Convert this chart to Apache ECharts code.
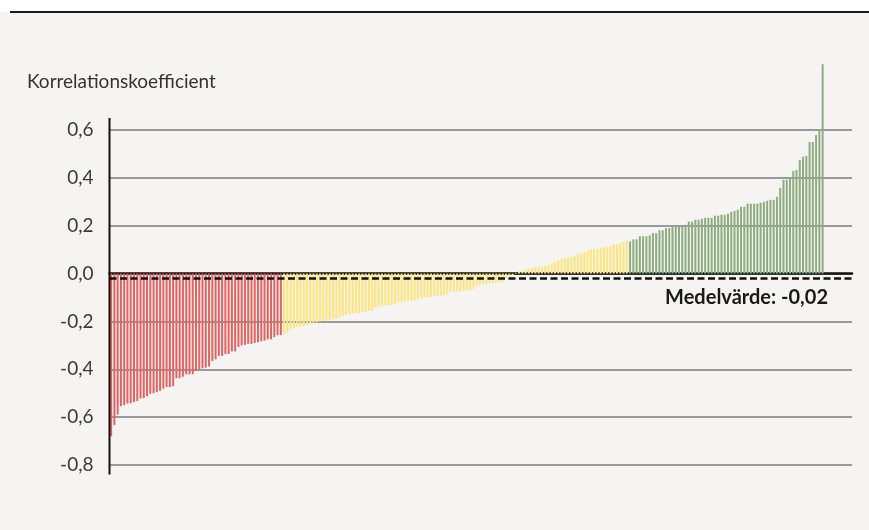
<!DOCTYPE html>
<html>
<head>
<meta charset="utf-8">
<script src="https://cdn.jsdelivr.net/npm/echarts@6/dist/echarts.min.js"></script>
<style>
  html, body { margin: 0; padding: 0; background: #fff; }
  #wrap { position: relative; width: 869px; height: 530px; background: #f5f4f2; }
  #topband { position: absolute; left: 0; top: 0; width: 869px; height: 12px; background: #fff; }
  #topline { position: absolute; left: 10px; top: 11px; width: 859px; height: 2px; background: #1a1a1a; }
  #chart { position: absolute; left: 0; top: 0; width: 869px; height: 530px; }
</style>
</head>
<body>
<div id="wrap">
  <div id="topband"></div>
  <div id="topline"></div>
  <div id="chart"></div>
</div>
<script>
// korrelationskoefficienter, sorterade
var redValues = [
  -0.68, -0.633, -0.589, -0.554, -0.55, -0.543, -0.542, -0.537, -0.533, -0.522,
  -0.52, -0.512, -0.503, -0.5, -0.495, -0.49, -0.481, -0.474, -0.474, -0.47,
  -0.437, -0.437, -0.431, -0.421, -0.421, -0.421, -0.406, -0.4, -0.396, -0.393,
  -0.388, -0.365, -0.358, -0.344, -0.344, -0.336, -0.336, -0.325, -0.325, -0.307,
  -0.3, -0.298, -0.294, -0.294, -0.29, -0.287, -0.283, -0.28, -0.275, -0.275,
  -0.265, -0.257, -0.257
];
var yellowValues = [
  -0.255, -0.248, -0.233, -0.229, -0.223, -0.222, -0.219, -0.216, -0.211, -0.205,
  -0.204, -0.2, -0.198, -0.195, -0.194, -0.19, -0.188, -0.184,
  -0.177, -0.173, -0.169, -0.169, -0.165, -0.165, -0.162, -0.159, -0.156, -0.156,
  -0.14, -0.14, -0.135, -0.132, -0.132, -0.131, -0.128, -0.12, -0.12, -0.114,
  -0.114, -0.114, -0.112, -0.109, -0.103, -0.1, -0.099, -0.097, -0.093, -0.093,
  -0.093, -0.089, -0.087, -0.077, -0.077,
  -0.076, -0.074, -0.072, -0.071, -0.069, -0.064, -0.052, -0.049, -0.045, -0.042,
  -0.041, -0.04, -0.039, -0.037, -0.035, -0.02, -0.012, -0.006, 0.003, 0.01,
  0.011, 0.017, 0.019, 0.024, 0.027, 0.028, 0.029, 0.032, 0.037, 0.043,
  0.049, 0.058, 0.061, 0.064, 0.069,
  0.07, 0.073, 0.082, 0.085, 0.089, 0.098, 0.102, 0.102, 0.102, 0.106,
  0.11, 0.11, 0.114, 0.123, 0.123, 0.127, 0.131, 0.135
];
var greenValues = [
  0.135, 0.143, 0.143, 0.156, 0.156, 0.156, 0.16, 0.169, 0.169, 0.181,
  0.181, 0.19, 0.19, 0.194, 0.198, 0.198, 0.198,
  0.204, 0.217, 0.217, 0.225, 0.225, 0.229, 0.233, 0.233, 0.233, 0.242,
  0.242, 0.246, 0.246, 0.25, 0.258, 0.262, 0.267, 0.279, 0.279, 0.292,
  0.292, 0.292, 0.292, 0.296, 0.3, 0.304, 0.308, 0.308, 0.321, 0.358,
  0.392, 0.392, 0.4, 0.429, 0.433, 0.475, 0.488, 0.492, 0.55, 0.55,
  0.579, 0.604, 0.875
];
var yTicks = [-0.8, -0.6, -0.4, -0.2, 0, 0.2, 0.4, 0.6];
var meanValue = -0.02;

var colors = { red: '#e36363', yellow: '#fde57b', green: '#8dac80' };

function fmt(v) {
  return v.toFixed(v === meanValue ? 2 : 1).replace('.', ',');
}

var barData = [];
var groups = [[redValues, colors.red], [yellowValues, colors.yellow], [greenValues, colors.green]];
groups.forEach(function(g) {
  g[0].forEach(function(v) {
    barData.push({ value: [barData.length + 1, v], itemStyle: { color: g[1] } });
  });
});

var chart = echarts.init(document.getElementById('chart'), null, { renderer: 'canvas' });
var font = 'Lato, "Open Sans", sans-serif';

chart.setOption({
  backgroundColor: 'transparent',
  animation: false,
  title: {
    text: 'Korrelationskoefficient',
    left: 22,
    top: 67,
    textStyle: { fontFamily: font, fontSize: 19, fontWeight: 'normal', color: '#333' }
  },
  grid: { left: 109.5, right: 17, top: 130, bottom: 65, containLabel: false },
  xAxis: {
    type: 'value',
    min: 0.5,
    max: 228,
    axisLine: { show: true, onZero: true, lineStyle: { color: '#111', width: 2.5 } },
    axisTick: { show: false },
    axisLabel: { show: false },
    splitLine: { show: false }
  },
  yAxis: {
    type: 'value',
    min: yTicks[0],
    max: yTicks[yTicks.length - 1],
    interval: 0.2,
    axisLine: { show: false },
    axisTick: { show: false },
    axisLabel: {
      margin: 16,
      fontFamily: font,
      fontSize: 19,
      color: '#3a3a3a',
      formatter: function(v) { return fmt(Math.round(v * 10) / 10); }
    },
    splitLine: { show: true, lineStyle: { color: '#7d7d7d', width: 1.5 } }
  },
  series: [{
    type: 'bar',
    barWidth: 2,
    clip: false,
    silent: true,
    data: barData,
    markLine: {
      silent: true,
      symbol: 'none',
      lineStyle: { color: '#111', width: 2.5, type: [7, 3.5] },
      label: {
        show: true,
        position: 'insideEndBottom',
        formatter: 'Medelvärde: ' + fmt(meanValue),
        fontFamily: font,
        fontSize: 20,
        fontWeight: 'bold',
        color: '#1a1a1a',
        offset: [-19, 4]
      },
      data: [{ yAxis: meanValue }]
    }
  }]
});

// y-axelns linje går lite förbi rutnätet
var ax = chart.convertToPixel({ xAxisIndex: 0 }, 0.5);
var yTop = chart.convertToPixel({ yAxisIndex: 0 }, 0.65);
var yBot = chart.convertToPixel({ yAxisIndex: 0 }, -0.84);
chart.setOption({
  graphic: [{
    type: 'line',
    shape: { x1: ax, y1: yTop, x2: ax, y2: yBot },
    style: { stroke: '#111', lineWidth: 2 },
    z: 10
  }]
});
</script>
</body>
</html>
